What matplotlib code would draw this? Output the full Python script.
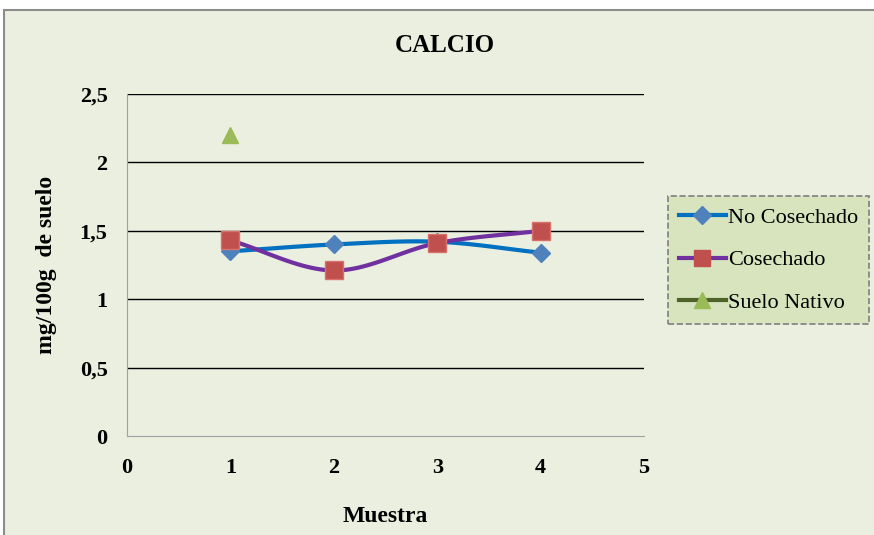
import matplotlib.pyplot as plt
from matplotlib.patches import Rectangle
import numpy as np

plt.rcParams['font.family'] = ['Liberation Serif', 'DejaVu Serif']

muestra = [1, 2, 3, 4]
no_cosechado = [1.35, 1.40, 1.42, 1.34]
cosechado = [1.43, 1.21, 1.41, 1.50]
nativo_x = [1]
suelo_nativo = [2.2]

y_ticks = [0, 0.5, 1, 1.5, 2, 2.5]
y_labels = ['0', '0,5', '1', '1,5', '2', '2,5']
x_ticks = [0, 1, 2, 3, 4, 5]


def smooth(xs, ys, n=30):
    # curva tipo Catmull-Rom entre los puntos (como la linea suavizada de Excel)
    xs = np.asarray(xs, float)
    ys = np.asarray(ys, float)
    px = np.concatenate([[2 * xs[0] - xs[1]], xs, [2 * xs[-1] - xs[-2]]])
    py = np.concatenate([[2 * ys[0] - ys[1]], ys, [2 * ys[-1] - ys[-2]]])
    ox, oy = [], []
    t = np.linspace(0, 1, n)
    for i in range(1, len(px) - 2):
        for p, out in ((px, ox), (py, oy)):
            p0, p1, p2, p3 = p[i - 1], p[i], p[i + 1], p[i + 2]
            out.extend(0.5 * ((2 * p1) + (-p0 + p2) * t
                              + (2 * p0 - 5 * p1 + 4 * p2 - p3) * t ** 2
                              + (-p0 + 3 * p1 - 3 * p2 + p3) * t ** 3))
    return ox, oy


bg = '#EBEFDF'
fig = plt.figure(figsize=(8.74, 5.35), dpi=100)
fig.patch.set_facecolor('white')
fig.patches.append(Rectangle((4 / 874, -0.01), 1.0, 1 - 10 / 535 + 0.01,
                             transform=fig.transFigure, facecolor=bg,
                             edgecolor='#8C8C8C', linewidth=1.5, zorder=-5))

ax = fig.add_axes([127 / 874, 99 / 535, 517 / 874, 342 / 535])
ax.set_facecolor(bg)
ax.set_xlim(0, 5)
ax.set_ylim(0, 2.5)

for y in y_ticks[1:]:
    ax.axhline(y, color='black', linewidth=1.0, zorder=1)

sx, sy = smooth(muestra, no_cosechado)
ax.plot(sx, sy, color='#0070C0', linewidth=3, zorder=2)
ax.plot(muestra, no_cosechado, linestyle='none', marker='D', markersize=9,
        color='#4F81BD', zorder=3)
sx, sy = smooth(muestra, cosechado)
ax.plot(sx, sy, color='#7030A0', linewidth=3, zorder=2)
ax.plot(muestra, cosechado, linestyle='none', marker='s', markersize=13,
        color='#C0504D', markeredgecolor='#D8706C', zorder=4)
ax.plot(nativo_x, suelo_nativo, linestyle='none', marker='^', markersize=12,
        color='#9BBB59', zorder=3)

# entradas de la leyenda
h1, = ax.plot([], [], color='#0070C0', linewidth=3, marker='D', markersize=9,
              markerfacecolor='#4F81BD', markeredgecolor='#4F81BD')
h2, = ax.plot([], [], color='#7030A0', linewidth=3, marker='s', markersize=11,
              markerfacecolor='#C0504D', markeredgecolor='#C0504D')
h3, = ax.plot([], [], color='#4F6228', linewidth=3, marker='^', markersize=11,
              markerfacecolor='#9BBB59', markeredgecolor='#9BBB59')
leg = fig.legend([h1, h2, h3], ['No Cosechado', 'Cosechado', 'Suelo Nativo'],
                 loc='upper left', bbox_to_anchor=(668 / 874, 1 - 196 / 535),
                 fontsize=16, frameon=True, fancybox=False, handlelength=2.1,
                 handletextpad=0.1, labelspacing=1.0, borderpad=0.5,
                 borderaxespad=0)
frame = leg.get_frame()
frame.set_facecolor('#D7E4BD')
frame.set_edgecolor('#7F7F7F')
frame.set_linestyle('--')
frame.set_linewidth(1.2)
frame.set_alpha(1)

ax.set_yticks(y_ticks)
ax.set_yticklabels(y_labels)
ax.set_xticks(x_ticks)
ax.tick_params(length=0, labelsize=16, pad=14)
for lab in ax.get_xticklabels() + ax.get_yticklabels():
    lab.set_fontweight('bold')
ax.tick_params(axis='x', pad=16)

for s in ['top', 'right']:
    ax.spines[s].set_visible(False)
ax.spines['left'].set_color('#A0A0A0')
ax.spines['bottom'].set_color('#A0A0A0')

fig.text(445 / 874, 1 - 45 / 535, 'CALCIO', ha='center', va='center',
         fontsize=18, fontweight='bold')
ax.set_xlabel('Muestra', fontsize=17, fontweight='bold', labelpad=20)
ax.set_ylabel('mg/100g  de suelo', fontsize=17, fontweight='bold', labelpad=16)

fig.savefig('out.png', dpi=100, facecolor=fig.get_facecolor())
